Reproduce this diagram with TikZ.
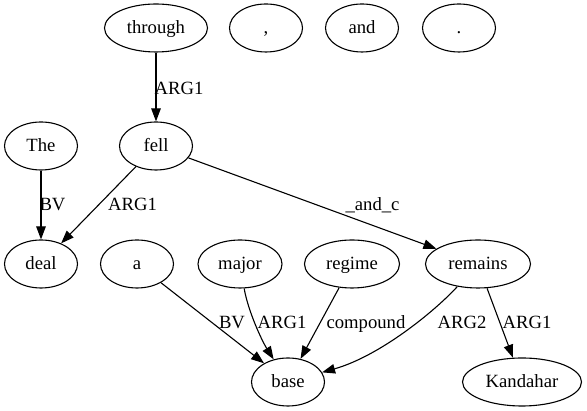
\documentclass[tikz,border=0pt]{standalone}
\usepackage{fontspec}
\setmainfont{Liberation Serif}
\usetikzlibrary{shapes.geometric,arrows.meta}

\begin{document}
\begin{tikzpicture}[x=1pt,y=1pt,
    every node/.style={font=\fontsize{18.67}{22}\selectfont},
    word/.style={ellipse,draw,line width=1.1pt,inner sep=0pt,
      minimum height=48pt,minimum width=73pt,
      text height=14pt,text depth=2pt},
    edge/.style={draw,line width=1.1pt,-{Triangle[length=13pt,width=9.5pt]}},
    lab/.style={anchor=base,inner sep=0pt}]
  \useasboundingbox (0,0) rectangle (587,411);

  % top row
  \node[word,minimum width=103pt] (through) at (156,383) {through};
  \node[word] (comma) at (266,383) {,};
  \node[word] (and)   at (362,383) {and};
  \node[word] (stop)  at (459,383) {.};

  % second row
  \node[word] (The)  at (41,265)  {The};
  \node[word] (fell) at (156,265) {fell};

  % third row
  \node[word] (deal)  at (41,147)  {deal};
  \node[word] (a)     at (137,147) {a};
  \node[word,minimum width=84pt]  (major)   at (240,147) {major};
  \node[word,minimum width=95pt]  (regime)  at (352,147) {regime};
  \node[word,minimum width=105pt] (remains) at (478,147) {remains};

  % bottom row
  \node[word] (base) at (288,29) {base};
  \node[word,minimum width=119pt] (Kandahar) at (522,29) {Kandahar};

  % connectors
  \draw[edge] (through) -- (fell);
  \draw[edge] (The) -- (deal);
  \draw[edge] (fell) -- (deal);
  \draw[edge] (fell) -- (remains);
  \draw[edge] (a) -- (base);
  \draw[edge] (major) .. controls (248,100) and (262,70) .. (base);
  \draw[edge] (regime) -- (base);
  \draw[edge] (remains) .. controls (435,100) and (380,55) .. (base);
  \draw[edge] (remains) -- (Kandahar);

  % edge labels
  \node[lab] (l1) at (179,316)    {ARG1};
  \node[lab] (l2) at (52.5,200)   {BV};
  \node[lab] (l3) at (132.5,200)  {ARG1};
  \node[lab] (l4) at (372.5,200)  {\_and\_c};
  \node[lab] (l5) at (232,82.5)   {BV};
  \node[lab] (l6) at (282,82.5)   {ARG1};
  \node[lab] (l7) at (366,82.5)   {compound};
  \node[lab] (l8) at (462,82.5)   {ARG2};
  \node[lab] (l9) at (527,82.5)   {ARG1};
\end{tikzpicture}
\end{document}
